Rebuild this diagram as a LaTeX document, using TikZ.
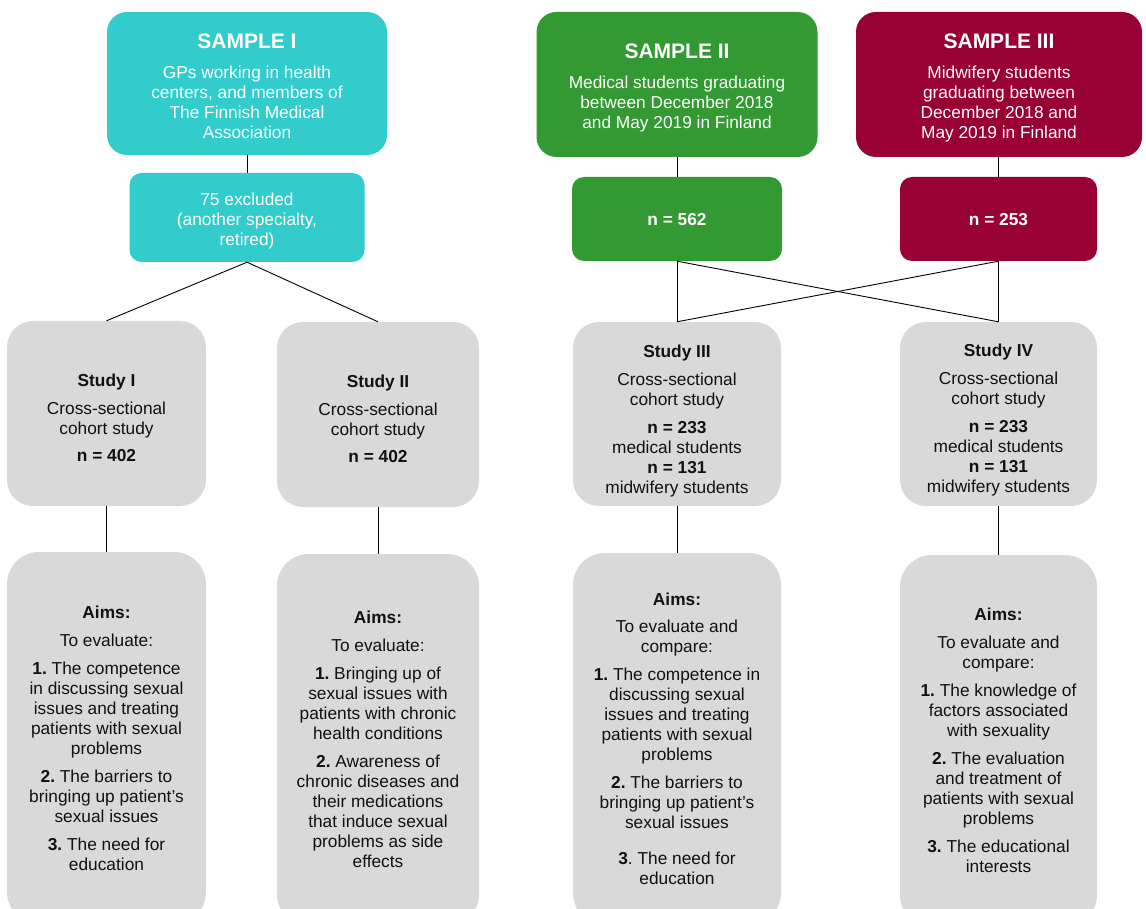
\documentclass[tikz,border=0pt]{standalone}
\usepackage{fontspec}
\setmainfont{Liberation Sans}
\frenchspacing
\definecolor{sampleteal}{HTML}{33CCCC}
\definecolor{samplegreen}{HTML}{339933}
\definecolor{samplewine}{HTML}{990033}
\definecolor{studygrey}{HTML}{D9D9D9}
\definecolor{inktext}{HTML}{111111}
\newcommand{\bodyfont}{\fontsize{17.3}{20}\selectfont}
\newcommand{\titlefont}{\fontsize{21}{20}\selectfont\bfseries}
\begin{document}
\begin{tikzpicture}[x=1pt,y=-1pt,
  shapebox/.style={draw=none, inner sep=0pt},
  samplebox/.style={shapebox, rounded corners=20pt},
  countbox/.style={shapebox, rounded corners=12pt},
  studybox/.style={shapebox, rounded corners=26pt, fill=studygrey},
  aimsbox/.style={shapebox, rounded corners=32pt, fill=studygrey},
  lighttext/.style={align=center, inner sep=0pt, font=\bodyfont, text=white},
  darktext/.style={align=center, inner sep=0pt, font=\bodyfont, text=inktext},
  link/.style={draw=black, line width=0.9pt}
]
\useasboundingbox (0,0) rectangle (1146,909);

% --- sample boxes ---
\node[samplebox, fill=sampleteal, minimum width=280pt, minimum height=143pt] (sI) at (247,83.5) {};
\node[samplebox, fill=samplegreen, minimum width=281pt, minimum height=145pt] (sII) at (677,84.5) {};
\node[samplebox, fill=samplewine, minimum width=286pt, minimum height=145pt] (sIII) at (999,84.5) {};
\node[lighttext] (sItext) at ([yshift=-3pt]sI.center)
  {{\titlefont SAMPLE I}\\[10pt]
   GPs working in health\\ centers, and members of\\ The Finnish Medical\\ Association};
\node[lighttext] (sIItext) at ([yshift=-3pt]sII.center)
  {{\titlefont SAMPLE II}\\[10pt]
   Medical students graduating\\ between December 2018\\ and May 2019 in Finland};
\node[lighttext] (sIIItext) at ([yshift=-3pt]sIII.center)
  {{\titlefont SAMPLE III}\\[10pt]
   Midwifery students\\ graduating between\\ December 2018 and\\ May 2019 in Finland};

% --- count boxes ---
\node[countbox, fill=sampleteal, minimum width=235pt, minimum height=89pt] (ex) at (247,217.5) {};
\node[countbox, fill=samplegreen, minimum width=210pt, minimum height=84pt] (n562) at (677,219) {};
\node[countbox, fill=samplewine, minimum width=197pt, minimum height=84pt] (n253) at (998.5,219) {};
\node[lighttext] (extext) at ([yshift=-4pt]ex.center)
  {75 excluded\\ (another specialty,\\ retired)};
\node[lighttext] (n562text) at ([yshift=-1pt]n562.center) {\bfseries n = 562};
\node[lighttext] (n253text) at ([yshift=-1pt]n253.center) {\bfseries n = 253};

% --- study boxes ---
\node[studybox, minimum width=199pt, minimum height=185pt] (stI) at (106.5,413.5) {};
\node[studybox, minimum width=202pt, minimum height=185pt] (stII) at (378,414.5) {};
\node[studybox, minimum width=208pt, minimum height=184pt] (stIII) at (677,414) {};
\node[studybox, minimum width=197pt, minimum height=184pt] (stIV) at (998.5,414) {};
\node[darktext] (stItext) at ([yshift=-4pt]stI.center)
  {\textbf{Study I}\\[8pt] Cross-sectional\\ cohort study\\[7pt] \textbf{n = 402}};
\node[darktext] (stIItext) at ([yshift=-4pt]stII.center)
  {\textbf{Study II}\\[8pt] Cross-sectional\\ cohort study\\[7pt] \textbf{n = 402}};
\node[darktext] (stIIItext) at ([yshift=-7pt]stIII.center)
  {\textbf{Study III}\\[8pt] Cross-sectional\\ cohort study\\[8pt]
   \textbf{n = 233}\\ medical students\\ \textbf{n = 131}\\ midwifery students};
\node[darktext] (stIVtext) at ([yshift=-6pt]stIV.center)
  {\textbf{Study IV}\\[8pt] Cross-sectional\\ cohort study\\[8pt]
   \textbf{n = 233}\\ medical students\\ \textbf{n = 131}\\ midwifery students};

% --- aims boxes ---
\node[aimsbox, minimum width=199pt, minimum height=372pt] (aI) at (106.5,738) {};
\node[aimsbox, minimum width=202pt, minimum height=372pt] (aII) at (378,740) {};
\node[aimsbox, minimum width=208pt, minimum height=372pt] (aIII) at (677,739) {};
\node[aimsbox, minimum width=197pt, minimum height=372pt] (aIV) at (998.5,741) {};
\node[darktext] (aItext) at (aI.center)
  {\textbf{Aims:}\\[8pt] To evaluate:\\[8pt]
   \textbf{1.} The competence\\ in discussing sexual\\ issues and treating\\
   patients with sexual\\ problems\\[8pt]
   \textbf{2.} The barriers to\\ bringing up patient’s\\ sexual issues\\[8pt]
   \textbf{3.} The need for\\ education};
\node[darktext] (aIItext) at ([yshift=1pt]aII.center)
  {\textbf{Aims:}\\[8pt] To evaluate:\\[8pt]
   \textbf{1.} Bringing up of\\ sexual issues with\\ patients with chronic\\
   health conditions\\[8pt]
   \textbf{2.} Awareness of\\ chronic diseases and\\ their medications\\
   that induce sexual\\ problems as side\\ effects};
\node[darktext] (aIIItext) at (aIII.center)
  {\textbf{Aims:}\\[7pt] To evaluate and\\ compare:\\[8pt]
   \textbf{1.} The competence in\\ discussing sexual\\ issues and treating\\
   patients with sexual\\ problems\\[8pt]
   \textbf{2.} The barriers to\\ bringing up patient’s\\ sexual issues\\[16pt]
   \textbf{3}. The need for\\ education};
\node[darktext] (aIVtext) at ([yshift=1pt]aIV.center)
  {\textbf{Aims:}\\[8pt] To evaluate and\\ compare:\\[8pt]
   \textbf{1.} The knowledge of\\ factors associated\\ with sexuality\\[8pt]
   \textbf{2.} The evaluation\\ and treatment of\\ patients with sexual\\ problems\\[8pt]
   \textbf{3.} The educational\\ interests};

% --- connectors ---
\draw[link] (sI.south) -- (ex.north);
\draw[link] (ex.south) -- (stI.north);
\draw[link] (ex.south) -- (stII.north);
\draw[link] (sII.south) -- (n562.north);
\draw[link] (n253.north |- sIII.south) -- (n253.north);
\draw[link] (n562.south) -- (stIII.north);
\draw[link] (n562.south) -- (stIV.north);
\draw[link] (n253.south) -- (stIV.north);
\draw[link] (n253.south) -- (stIII.north);
\draw[link] (stI.south) -- (aI.north);
\draw[link] (stII.south) -- (aII.north);
\draw[link] (stIII.south) -- (aIII.north);
\draw[link] (stIV.south) -- (aIV.north);
\end{tikzpicture}
\end{document}
